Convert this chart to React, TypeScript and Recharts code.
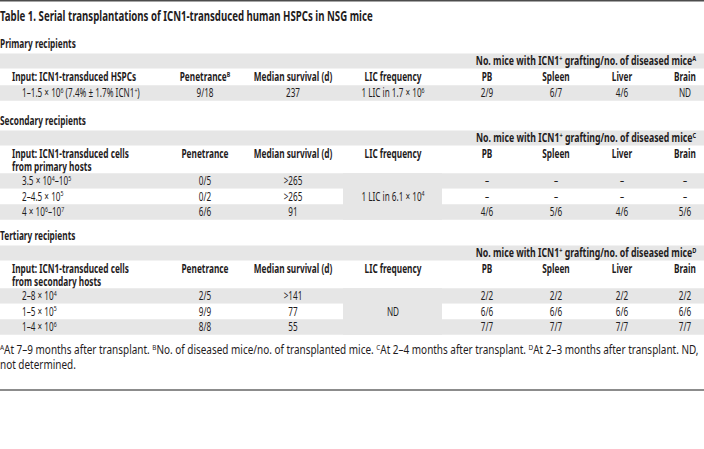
import React from 'react';
import { Surface, Rectangle, Layer } from 'recharts';

const title = 'Table 1. Serial transplantations of ICN1-transduced human HSPCs in NSG mice';
const sectionTitles = ['Primary recipients', 'Secondary recipients', 'Tertiary recipients'];
const spanHeaders = [
  'No. mice with ICN1^{+} grafting/no. of diseased mice^{A}',
  'No. mice with ICN1^{+} grafting/no. of diseased mice^{C}',
  'No. mice with ICN1^{+} grafting/no. of diseased mice^{D}',
];
const inputHeaders = [
  ['Input: ICN1-transduced HSPCs'],
  ['Input: ICN1-transduced cells', 'from primary hosts'],
  ['Input: ICN1-transduced cells', 'from secondary hosts'],
];
const penetranceHeaders = ['Penetrance^{B}', 'Penetrance', 'Penetrance'];
const columnHeaders = ['Median survival (d)', 'LIC frequency', 'PB', 'Spleen', 'Liver', 'Brain'];

const primaryInputs = ['1–1.5 × 10^{6} (7.4% ± 1.7% ICN1^{+})'];
const primaryPenetrance = ['9/18'];
const primarySurvival = ['237'];
const primaryLIC = '1 LIC in 1.7 × 10^{6}';
const primaryPB = ['2/9'];
const primarySpleen = ['6/7'];
const primaryLiver = ['4/6'];
const primaryBrain = ['ND'];

const secondaryInputs = ['3.5 × 10^{4}–10^{5}', '2–4.5 × 10^{5}', '4 × 10^{6}–10^{7}'];
const secondaryPenetrance = ['0/5', '0/2', '6/6'];
const secondarySurvival = ['>265', '>265', '91'];
const secondaryLIC = '1 LIC in 6.1 × 10^{4}';
const secondaryPB = ['–', '–', '4/6'];
const secondarySpleen = ['–', '–', '5/6'];
const secondaryLiver = ['–', '–', '4/6'];
const secondaryBrain = ['–', '–', '5/6'];

const tertiaryInputs = ['2–8 × 10^{4}', '1–5 × 10^{5}', '1–4 × 10^{6}'];
const tertiaryPenetrance = ['2/5', '9/9', '8/8'];
const tertiarySurvival = ['>141', '77', '55'];
const tertiaryLIC = 'ND';
const tertiaryPB = ['2/2', '6/6', '7/7'];
const tertiarySpleen = ['2/2', '6/6', '7/7'];
const tertiaryLiver = ['2/2', '6/6', '7/7'];
const tertiaryBrain = ['2/2', '6/6', '7/7'];

const footnoteLines = [
  '^{A}At 7–9 months after transplant. ^{B}No. of diseased mice/no. of transplanted mice. ^{C}At 2–4 months after transplant. ^{D}At 2–3 months after transplant. ND,',
  'not determined.',
];

const sections = [
  { inputs: primaryInputs, pen: primaryPenetrance, surv: primarySurvival, lic: primaryLIC, pb: primaryPB, spleen: primarySpleen, liver: primaryLiver, brain: primaryBrain },
  { inputs: secondaryInputs, pen: secondaryPenetrance, surv: secondarySurvival, lic: secondaryLIC, pb: secondaryPB, spleen: secondarySpleen, liver: secondaryLiver, brain: secondaryBrain },
  { inputs: tertiaryInputs, pen: tertiaryPenetrance, surv: tertiarySurvival, lic: tertiaryLIC, pb: tertiaryPB, spleen: tertiarySpleen, liver: tertiaryLiver, brain: tertiaryBrain },
];

const W = 704;
const H = 449;
const FONT = "'Noto Sans', sans-serif";
const TEXT = '#1f1c1d';
const GRAY = '#e6e6e6';
const SIZE = 12;
const ROW = 15.5;
const SECTION_Y = [44, 121, 236];
const COLS = { headerX: 12, inputX: 22, pen: 205, surv: 293, lic: 393, pb: 487, spleen: 556, liver: 622, brain: 685 };
const LIC_LEFT = 343;
const LIC_RIGHT = 442;
const K_TITLE = 0.69;
const K_BOLD = 0.69;
const K_SPAN = 0.73;
const K_REG = 0.68;
const K_FOOT = 0.83;

type Part = { text: string; sup: boolean };
function parseRich(s: string): Part[] {
  const parts: Part[] = [];
  const re = /\^\{([^}]*)\}/g;
  let last = 0;
  let m: RegExpExecArray | null;
  while ((m = re.exec(s))) {
    if (m.index > last) parts.push({ text: s.slice(last, m.index), sup: false });
    parts.push({ text: m[1], sup: true });
    last = re.lastIndex;
  }
  if (last < s.length) parts.push({ text: s.slice(last), sup: false });
  return parts;
}

function Rich(props: { x: number; y: number; s: string; anchor?: string; weight?: number; size?: number; k?: number }) {
  const { x, y, s, anchor = 'middle', weight = 400, size = SIZE } = props;
  const k = props.k ?? (weight >= 700 ? K_BOLD : K_REG);
  const parts = parseRich(s);
  let shifted = false;
  const children = parts.map((p, i) => {
    let dy = 0;
    if (p.sup && !shifted) {
      dy = -size * 0.36;
      shifted = true;
    } else if (!p.sup && shifted) {
      dy = size * 0.36;
      shifted = false;
    }
    return (
      <tspan key={i} dy={dy !== 0 ? dy : undefined} fontSize={p.sup ? size * 0.64 : size}>
        {p.text}
      </tspan>
    );
  });
  return (
    <text
      x={0}
      y={y + size * 0.36}
      transform={`translate(${x} 0) scale(${k} 1)`}
      textAnchor={anchor as any}
      fontWeight={weight}
      fontSize={size}
      fill={TEXT}
      fontFamily={FONT}
    >
      {children}
    </text>
  );
}

function Section({ idx }: { idx: number }) {
  const sec = sections[idx];
  const sy = SECTION_Y[idx];
  const spanY = sy + 17;
  const headY = sy + 33;
  const lines = inputHeaders[idx].length;
  const dataY0 = headY + 16 + (lines - 1) * 11;
  const n = sec.inputs.length;
  const rowsY = sec.inputs.map((_, i) => dataY0 + i * ROW);
  const licY = rowsY[Math.floor((n - 1) / 2)];
  const headerCols = [COLS.surv, COLS.lic, COLS.pb, COLS.spleen, COLS.liver, COLS.brain];
  return (
    <Layer>
      <Rich x={0} y={sy} s={sectionTitles[idx]} anchor="start" weight={700} />
      <Rectangle x={0} y={spanY - 7.5} width={W} height={15} fill={GRAY} />
      <Rich x={(COLS.pb + COLS.brain) / 2} y={spanY} s={spanHeaders[idx]} weight={700} k={K_SPAN} />
      {inputHeaders[idx].map((t, i) => (
        <Rich key={i} x={COLS.headerX} y={headY + i * 13} s={t} anchor="start" weight={700} />
      ))}
      <Rich x={COLS.pen} y={headY} s={penetranceHeaders[idx]} weight={700} />
      {columnHeaders.map((t, i) => (
        <Rich key={t} x={headerCols[i]} y={headY} s={t} weight={700} />
      ))}
      {rowsY.map((ry, i) => (
        <Rectangle key={'bg' + i} x={0} y={ry - ROW / 2} width={W} height={ROW} fill={i % 2 === 0 ? GRAY : '#ffffff'} />
      ))}
      {n > 1 && <Rectangle x={LIC_LEFT} y={rowsY[0] - ROW / 2} width={LIC_RIGHT - LIC_LEFT} height={ROW * n} fill={GRAY} />}
      {rowsY.map((ry, i) => (
        <Layer key={'row' + i}>
          <Rich x={COLS.inputX} y={ry} s={sec.inputs[i]} anchor="start" />
          <Rich x={COLS.pen} y={ry} s={sec.pen[i]} />
          <Rich x={COLS.surv} y={ry} s={sec.surv[i]} />
          <Rich x={COLS.pb} y={ry} s={sec.pb[i]} />
          <Rich x={COLS.spleen} y={ry} s={sec.spleen[i]} />
          <Rich x={COLS.liver} y={ry} s={sec.liver[i]} />
          <Rich x={COLS.brain} y={ry} s={sec.brain[i]} />
        </Layer>
      ))}
      <Rich x={COLS.lic} y={licY} s={sec.lic} />
    </Layer>
  );
}

export default function App() {
  return (
    <div style={{ position: 'absolute', left: 0, top: 0, width: W, height: H, background: '#ffffff' }}>
      <Surface width={W} height={H}>
        <Rectangle x={0} y={0} width={W} height={1.5} fill="#4d4d4d" />
        <Rich x={0} y={16} s={title} anchor="start" weight={700} size={14} k={K_TITLE} />
        {sections.map((_, i) => (
          <Section key={i} idx={i} />
        ))}
        {footnoteLines.map((t, i) => (
          <Rich key={i} x={0} y={350 + i * 15} s={t} anchor="start" k={K_FOOT} />
        ))}
        <Rectangle x={0} y={389} width={W} height={2} fill="#8c8c8c" />
      </Surface>
    </div>
  );
}
